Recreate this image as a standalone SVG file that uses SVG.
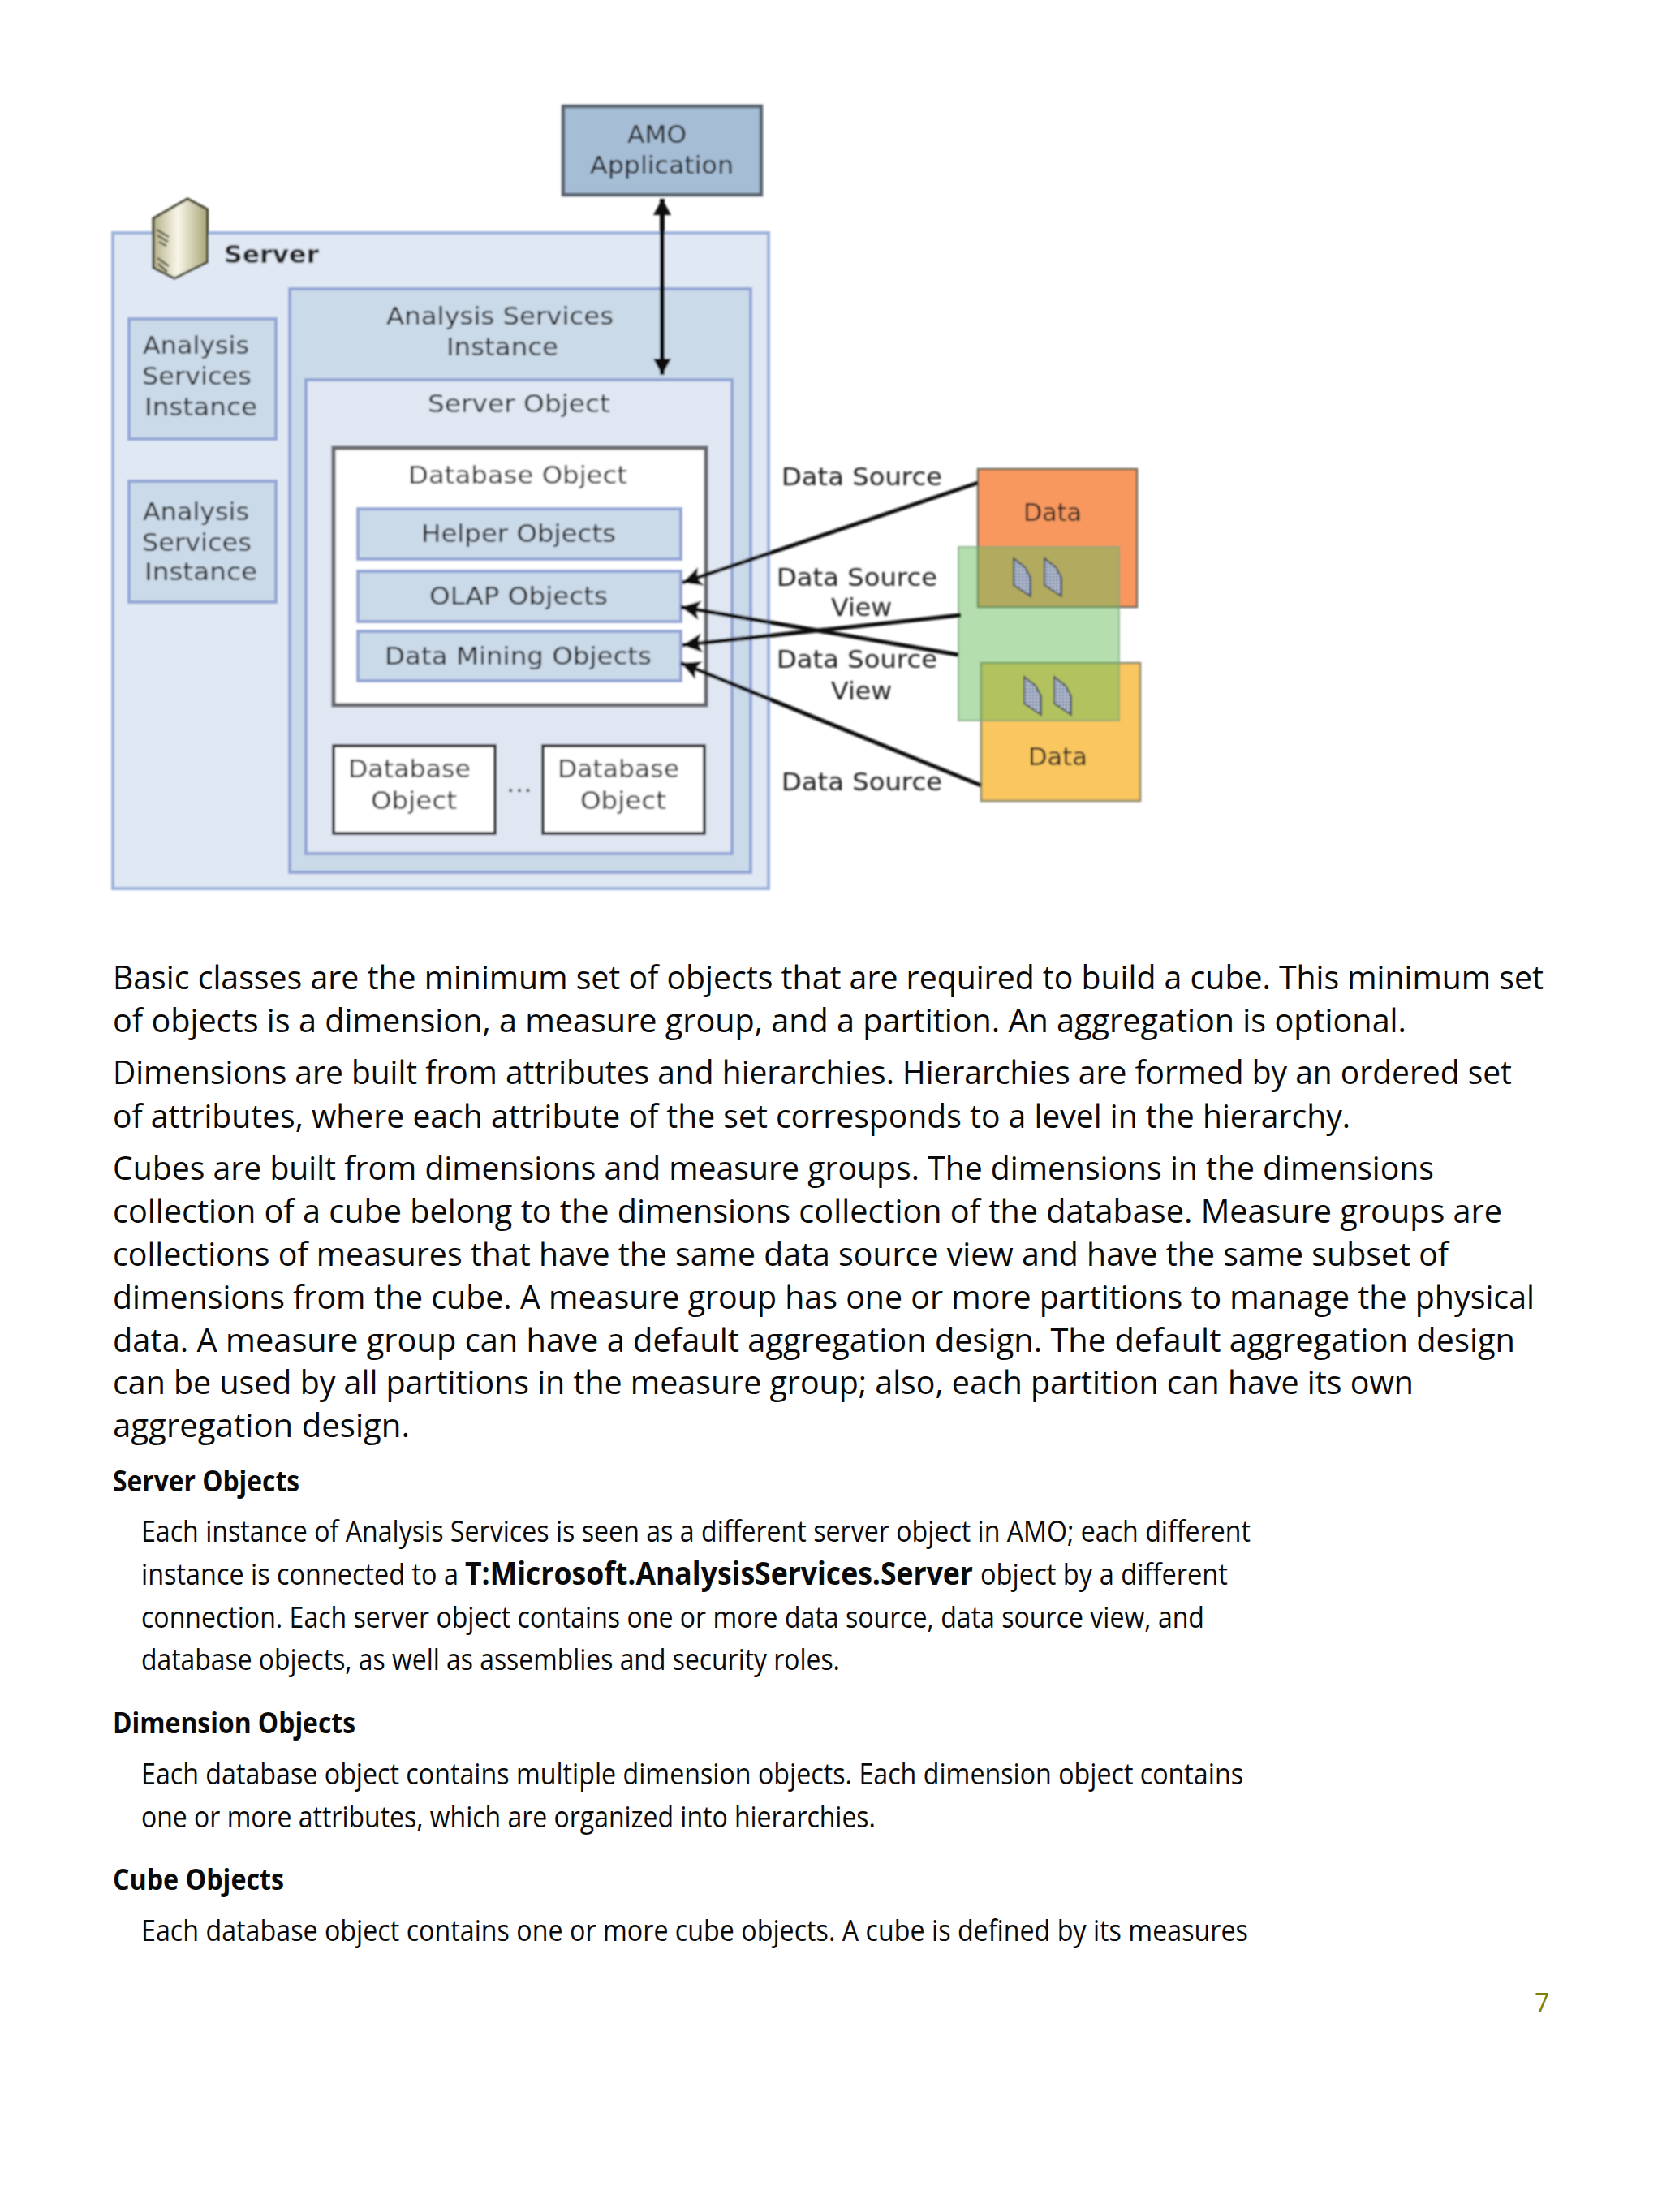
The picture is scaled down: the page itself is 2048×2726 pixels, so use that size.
<svg xmlns="http://www.w3.org/2000/svg" width="2048" height="2726" viewBox="0 0 2048 2726">
<defs>
<style>
.d{font-family:"DejaVu Sans","Liberation Sans",sans-serif;font-size:31px;fill:#222}
.b{font-family:"Open Sans","Noto Sans",sans-serif;font-size:40px;fill:#0a0a0a}
.s{font-family:"Open Sans","Noto Sans",sans-serif;font-size:36px;fill:#0a0a0a}
.h{font-family:"Open Sans","Noto Sans",sans-serif;font-size:36px;font-weight:700;fill:#0a0a0a}
.inst{fill:#cbdae9;stroke:#93a6d6;stroke-width:4}
.outer{fill:#e0e8f4;stroke:#9fb3da;stroke-width:4}
.white{fill:#fff;stroke:#66686c;stroke-width:5}
.whitek{fill:#fff;stroke:#303236;stroke-width:4}
.arrow{stroke:#111;stroke-width:5;fill:none;marker-end:url(#head)}
</style>
<marker id="head" markerUnits="userSpaceOnUse" markerWidth="28" markerHeight="28" refX="24" refY="12" orient="auto"><path d="M0 0L24 12L0 24L5 12Z" fill="#111"/></marker>
<marker id="headv" markerUnits="userSpaceOnUse" markerWidth="24" markerHeight="24" refX="20" refY="11" orient="auto-start-reverse"><path d="M0 0L20 11L0 22Z" fill="#111"/></marker>
<linearGradient id="tower" x1="0" x2="1" y1="0" y2="0"><stop offset="0" stop-color="#b4b189"/><stop offset=".45" stop-color="#f8f7e8"/><stop offset="1" stop-color="#a8a578"/></linearGradient>
<pattern id="hatch" width="4" height="4" patternUnits="userSpaceOnUse"><rect width="4" height="4" fill="#98a6c0"/><rect width="2" height="2" fill="#cfd5df"/><rect x="2" y="2" width="2" height="2" fill="#6f7d9a"/></pattern>
<path id="doc" d="M0 0L14 11L21 24V47L0 33Z" fill="url(#hatch)" stroke="#4a4f58" stroke-width="2"/>
<filter id="soft" x="-2%" y="-2%" width="104%" height="104%"><feGaussianBlur stdDeviation="1"/></filter>
</defs>
<rect width="2048" height="2726" fill="#fff"/>
<g filter="url(#soft)">
<g id="server"><rect class="outer" x="139" y="287" width="808" height="808"/>
<text class="d" x="276" y="324" font-weight="700" textLength="117" lengthAdjust="spacingAndGlyphs">Server</text></g>
<g id="server-icon">
<path d="M189 269L231 245L255.500 258V323L215 343L189 330Z" fill="url(#tower)" stroke="#3e3d2c" stroke-width="3"/>
<path d="M193 283L208 292M194 290L207 298M196 298L205 303M194 318L208 328M195 325L206 335" stroke="#55553f" stroke-width="2.500" fill="none"/>
</g>
<g id="amo"><rect x="694" y="131" width="244" height="109" fill="#a6bdd6" stroke="#5c6672" stroke-width="4.500"/>
<text class="d" x="773" y="176" textLength="73" lengthAdjust="spacingAndGlyphs">AMO</text>
<text class="d" x="727" y="214" textLength="177" lengthAdjust="spacingAndGlyphs">Application</text></g>
<g id="instance-left-1"><rect class="inst" x="159" y="393" width="181" height="148"/>
<text class="d" x="176" y="436" textLength="131" lengthAdjust="spacingAndGlyphs">Analysis</text>
<text class="d" x="175" y="474" textLength="135" lengthAdjust="spacingAndGlyphs">Services</text>
<text class="d" x="178" y="512" textLength="139" lengthAdjust="spacingAndGlyphs">Instance</text></g>
<g id="instance-left-2"><rect class="inst" x="159" y="593" width="181" height="149"/>
<text class="d" x="176" y="641" textLength="131" lengthAdjust="spacingAndGlyphs">Analysis</text>
<text class="d" x="175" y="679" textLength="135" lengthAdjust="spacingAndGlyphs">Services</text>
<text class="d" x="178" y="715" textLength="139" lengthAdjust="spacingAndGlyphs">Instance</text></g>
<g id="instance-main"><rect class="inst" x="357" y="356" width="568" height="719"/>
<text class="d" x="476" y="400" textLength="280" lengthAdjust="spacingAndGlyphs">Analysis Services</text>
<text class="d" x="550" y="438" textLength="138" lengthAdjust="spacingAndGlyphs">Instance</text></g>
<g id="server-object"><rect x="377" y="468" width="525" height="584" fill="#e0e7f3" stroke="#93a6d6" stroke-width="4"/>
<text class="d" x="527" y="508" textLength="225" lengthAdjust="spacingAndGlyphs">Server Object</text></g>
<g id="database-object"><rect class="white" x="411" y="552" width="459" height="317"/>
<text class="d" x="503" y="596" textLength="270" lengthAdjust="spacingAndGlyphs">Database Object</text></g>
<g id="helper-objects"><rect class="inst" x="441" y="627" width="398" height="62"/>
<text class="d" x="519" y="668" textLength="240" lengthAdjust="spacingAndGlyphs">Helper Objects</text></g>
<g id="olap-objects"><rect class="inst" x="441" y="704" width="398" height="62"/>
<text class="d" x="529" y="745" textLength="220" lengthAdjust="spacingAndGlyphs">OLAP Objects</text></g>
<g id="data-mining-objects"><rect class="inst" x="441" y="778" width="398" height="61"/>
<text class="d" x="474" y="819" textLength="329" lengthAdjust="spacingAndGlyphs">Data Mining Objects</text></g>
<g id="database-object-1"><rect class="whitek" x="411" y="919" width="199" height="108"/>
<text class="d" x="429" y="958" textLength="151" lengthAdjust="spacingAndGlyphs">Database</text>
<text class="d" x="457" y="997" textLength="106" lengthAdjust="spacingAndGlyphs">Object</text></g>
<text class="d" x="624" y="976" textLength="32" lengthAdjust="spacingAndGlyphs">...</text>
<g id="database-object-2"><rect class="whitek" x="669" y="919" width="199" height="108"/>
<text class="d" x="687" y="958" textLength="150" lengthAdjust="spacingAndGlyphs">Database</text>
<text class="d" x="715" y="997" textLength="106" lengthAdjust="spacingAndGlyphs">Object</text></g>
<g id="data-1"><rect x="1205" y="578" width="196" height="170" fill="#f8985f" stroke="#6d6a5c" stroke-width="2.500"/>
<text class="d" x="1261" y="642" textLength="72" lengthAdjust="spacingAndGlyphs">Data</text></g>
<g id="data-2"><rect x="1209" y="817" width="196" height="170" fill="#f9c65e" stroke="#8c8a70" stroke-width="2.500"/>
<text class="d" x="1267" y="943" textLength="73" lengthAdjust="spacingAndGlyphs">Data</text></g>
<g id="data-source-view-box"><rect x="1181" y="674" width="198" height="214" fill="#6cbd5f" fill-opacity=".5" stroke="#7da57a" stroke-opacity=".7" stroke-width="2"/>
<use href="#doc" x="1249" y="688"/><use href="#doc" x="1287" y="688"/>
<use href="#doc" x="1262" y="834"/><use href="#doc" x="1299" y="834"/></g>
<g id="connectors">
<line x1="816" y1="462" x2="816" y2="245" stroke="#111" stroke-width="6" marker-start="url(#headv)" marker-end="url(#headv)"/>
<line class="arrow" x1="1205" y1="595" x2="841" y2="718"/>
<line class="arrow" x1="1181" y1="807" x2="839" y2="748"/>
<line class="arrow" x1="1184" y1="758" x2="841" y2="795"/>
<line class="arrow" x1="1209" y1="968" x2="839" y2="817"/>
</g>
<g id="labels">
<text class="d" x="963" y="598" textLength="198" lengthAdjust="spacingAndGlyphs">Data Source</text>
<text class="d" x="957" y="722" textLength="198" lengthAdjust="spacingAndGlyphs">Data Source</text>
<text class="d" x="1024" y="759" textLength="75" lengthAdjust="spacingAndGlyphs">View</text>
<text class="d" x="957" y="823" textLength="198" lengthAdjust="spacingAndGlyphs">Data Source</text>
<text class="d" x="1024" y="862" textLength="75" lengthAdjust="spacingAndGlyphs">View</text>
<text class="d" x="963" y="974" textLength="198" lengthAdjust="spacingAndGlyphs">Data Source</text>
</g>
</g>
<g id="body">
<text class="b" x="139" y="1219" textLength="1763" lengthAdjust="spacingAndGlyphs">Basic classes are the minimum set of objects that are required to build a cube. This minimum set</text>
<text class="b" x="139" y="1272" textLength="1594" lengthAdjust="spacingAndGlyphs">of objects is a dimension, a measure group, and a partition. An aggregation is optional.</text>
<text class="b" x="139" y="1336" textLength="1724" lengthAdjust="spacingAndGlyphs">Dimensions are built from attributes and hierarchies. Hierarchies are formed by an ordered set</text>
<text class="b" x="139" y="1390" textLength="1525" lengthAdjust="spacingAndGlyphs">of attributes, where each attribute of the set corresponds to a level in the hierarchy.</text>
<text class="b" x="139" y="1454" textLength="1628" lengthAdjust="spacingAndGlyphs">Cubes are built from dimensions and measure groups. The dimensions in the dimensions</text>
<text class="b" x="139" y="1507" textLength="1712" lengthAdjust="spacingAndGlyphs">collection of a cube belong to the dimensions collection of the database. Measure groups are</text>
<text class="b" x="139" y="1560" textLength="1646" lengthAdjust="spacingAndGlyphs">collections of measures that have the same data source view and have the same subset of</text>
<text class="b" x="139" y="1613" textLength="1752" lengthAdjust="spacingAndGlyphs">dimensions from the cube. A measure group has one or more partitions to manage the physical</text>
<text class="b" x="139" y="1666" textLength="1728" lengthAdjust="spacingAndGlyphs">data. A measure group can have a default aggregation design. The default aggregation design</text>
<text class="b" x="139" y="1718" textLength="1603" lengthAdjust="spacingAndGlyphs">can be used by all partitions in the measure group; also, each partition can have its own</text>
<text class="b" x="139" y="1771" textLength="366" lengthAdjust="spacingAndGlyphs">aggregation design.</text>
<text class="h" x="139" y="1838" textLength="230" lengthAdjust="spacingAndGlyphs">Server Objects</text>
<text class="s" x="174" y="1900" textLength="1367" lengthAdjust="spacingAndGlyphs">Each instance of Analysis Services is seen as a different server object in AMO; each different</text>
<text class="s" x="174" y="1953" textLength="391" lengthAdjust="spacingAndGlyphs">instance is connected to a</text>
<text class="b" x="573" y="1953" font-size="38" font-weight="700" textLength="626" lengthAdjust="spacingAndGlyphs">T:Microsoft.AnalysisServices.Server</text>
<text class="s" x="1208" y="1953" textLength="305" lengthAdjust="spacingAndGlyphs">object by a different</text>
<text class="s" x="174" y="2006" textLength="1310" lengthAdjust="spacingAndGlyphs">connection. Each server object contains one or more data source, data source view, and</text>
<text class="s" x="174" y="2058" textLength="861" lengthAdjust="spacingAndGlyphs">database objects, as well as assemblies and security roles.</text>
<text class="h" x="139" y="2136" textLength="299" lengthAdjust="spacingAndGlyphs">Dimension Objects</text>
<text class="s" x="174" y="2199" textLength="1358" lengthAdjust="spacingAndGlyphs">Each database object contains multiple dimension objects. Each dimension object contains</text>
<text class="s" x="174" y="2252" textLength="905" lengthAdjust="spacingAndGlyphs">one or more attributes, which are organized into hierarchies.</text>
<text class="h" x="139" y="2329" textLength="211" lengthAdjust="spacingAndGlyphs">Cube Objects</text>
<text class="s" x="174" y="2392" textLength="1364" lengthAdjust="spacingAndGlyphs">Each database object contains one or more cube objects. A cube is defined by its measures</text>
<text x="1891" y="2480" font-family="Open Sans, Noto Sans, sans-serif" font-size="32" fill="#7f7f0a">7</text>
</g>
</svg>
